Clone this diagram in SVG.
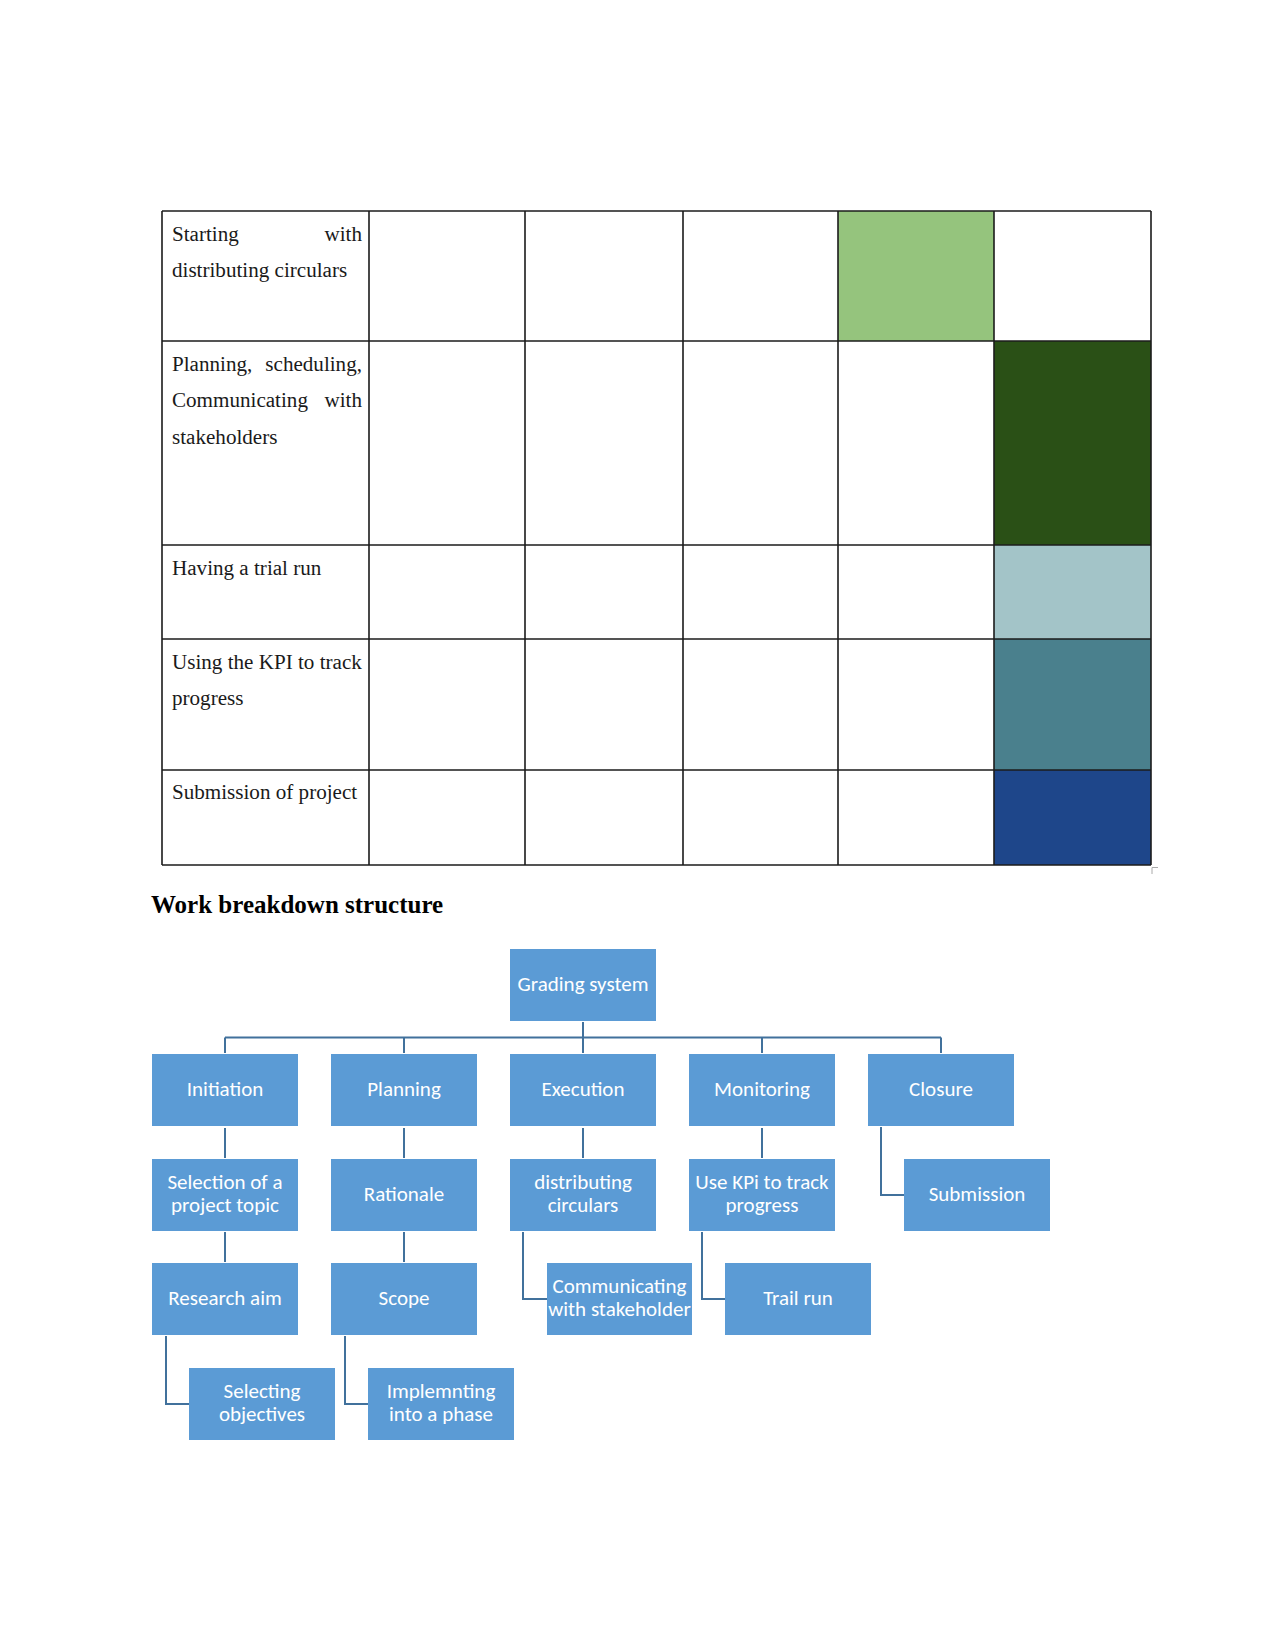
<svg xmlns="http://www.w3.org/2000/svg" width="1275" height="1650" viewBox="0 0 1275 1650">
<style>
.bg{fill:#ffffff}
.cell{stroke:none}
.grid{stroke:#1c1c1c;stroke-width:1.6;fill:none}
.tt{font-family:"Liberation Serif","Times New Roman",serif;font-size:21.1px;fill:#1a1a1a}
.hd{font-family:"Liberation Serif","Times New Roman",serif;font-size:25px;font-weight:bold;fill:#000}
.box{fill:#5B9BD5}
.lbl{font-family:Carlito,Lato,"Liberation Sans",sans-serif;font-size:21px;fill:#ffffff;text-anchor:middle}
.con{stroke:#41719C;stroke-width:2;fill:none}
</style>
<rect class="bg" x="0" y="0" width="1275" height="1650"/>

<g id="table">
  <rect class="cell" x="838" y="211" width="156" height="130" fill="#95C47D"/>
  <rect class="cell" x="994" y="341" width="157" height="204" fill="#2A5016"/>
  <rect class="cell" x="994" y="545" width="157" height="94" fill="#A3C4C8"/>
  <rect class="cell" x="994" y="639" width="157" height="131" fill="#4A808D"/>
  <rect class="cell" x="994" y="770" width="157" height="95" fill="#1E468A"/>
  <path class="grid" d="M162 211H1151M162 341H1151M162 545H1151M162 639H1151M162 770H1151M162 865H1151M162 211V865M369 211V865M525 211V865M683 211V865M838 211V865M994 211V865M1151 211V865"/>
  <path d="M1152 874V867.5H1158" stroke="#aaaaaa" stroke-width="1" fill="none"/>
  <text class="tt" x="172" y="240.5">Starting</text>
  <text class="tt" x="362" y="240.5" text-anchor="end">with</text>
  <text class="tt" x="172" y="277">distributing circulars</text>
  <text class="tt" x="172" y="370.5">Planning,</text>
  <text class="tt" x="362" y="370.5" text-anchor="end">scheduling,</text>
  <text class="tt" x="172" y="407">Communicating</text>
  <text class="tt" x="362" y="407" text-anchor="end">with</text>
  <text class="tt" x="172" y="444">stakeholders</text>
  <text class="tt" x="172" y="574.5">Having a trial run</text>
  <text class="tt" x="172" y="668.5">Using the KPI to track</text>
  <text class="tt" x="172" y="705">progress</text>
  <text class="tt" x="172" y="799">Submission of project</text>
</g>

<text id="heading" class="hd" x="151" y="912.5">Work breakdown structure</text>

<g id="connectors">
  <path class="con" d="M583 1022V1053"/>
  <path class="con" d="M225 1037.5H941"/>
  <path class="con" d="M225 1037.5V1053M404 1037.5V1053M762 1037.5V1053M941 1037.5V1053"/>
  <path class="con" d="M225 1128V1158M404 1128V1158M583 1128V1158M762 1128V1158"/>
  <path class="con" d="M225 1232V1262M404 1232V1262"/>
  <path class="con" d="M881 1127V1195H904"/>
  <path class="con" d="M523 1232V1299H547"/>
  <path class="con" d="M702 1232V1299H725"/>
  <path class="con" d="M166 1336V1404H189"/>
  <path class="con" d="M345 1336V1404H368"/>
</g>

<g id="n-grading"><rect class="box" x="510" y="949" width="146" height="72"/><text class="lbl" x="583" y="991">Grading system</text></g>
<g id="n-initiation"><rect class="box" x="152" y="1054" width="146" height="72"/><text class="lbl" x="225" y="1096">Initiation</text></g>
<g id="n-planning"><rect class="box" x="331" y="1054" width="146" height="72"/><text class="lbl" x="404" y="1096">Planning</text></g>
<g id="n-execution"><rect class="box" x="510" y="1054" width="146" height="72"/><text class="lbl" x="583" y="1096">Execution</text></g>
<g id="n-monitoring"><rect class="box" x="689" y="1054" width="146" height="72"/><text class="lbl" x="762" y="1096">Monitoring</text></g>
<g id="n-closure"><rect class="box" x="868" y="1054" width="146" height="72"/><text class="lbl" x="941" y="1096">Closure</text></g>

<g id="n-selection"><rect class="box" x="152" y="1159" width="146" height="72"/><text class="lbl" x="225" y="1189">Selection of a</text><text class="lbl" x="225" y="1211.5">project topic</text></g>
<g id="n-rationale"><rect class="box" x="331" y="1159" width="146" height="72"/><text class="lbl" x="404" y="1201">Rationale</text></g>
<g id="n-distributing"><rect class="box" x="510" y="1159" width="146" height="72"/><text class="lbl" x="583" y="1189">distributing</text><text class="lbl" x="583" y="1211.5">circulars</text></g>
<g id="n-usekpi"><rect class="box" x="689" y="1159" width="146" height="72"/><text class="lbl" x="762" y="1189">Use KPi to track</text><text class="lbl" x="762" y="1211.5">progress</text></g>
<g id="n-submission"><rect class="box" x="904" y="1159" width="146" height="72"/><text class="lbl" x="977" y="1201">Submission</text></g>

<g id="n-research"><rect class="box" x="152" y="1263" width="146" height="72"/><text class="lbl" x="225" y="1305">Research aim</text></g>
<g id="n-scope"><rect class="box" x="331" y="1263" width="146" height="72"/><text class="lbl" x="404" y="1305">Scope</text></g>
<g id="n-communicating"><rect class="box" x="547" y="1263" width="145" height="72"/><text class="lbl" x="619.5" y="1293">Communicating</text><text class="lbl" x="619.5" y="1315.5">with stakeholder</text></g>
<g id="n-trailrun"><rect class="box" x="725" y="1263" width="146" height="72"/><text class="lbl" x="798" y="1305">Trail run</text></g>

<g id="n-selecting"><rect class="box" x="189" y="1368" width="146" height="72"/><text class="lbl" x="262" y="1398">Selecting</text><text class="lbl" x="262" y="1420.5">objectives</text></g>
<g id="n-implementing"><rect class="box" x="368" y="1368" width="146" height="72"/><text class="lbl" x="441" y="1398">Implemnting</text><text class="lbl" x="441" y="1420.5">into a phase</text></g>
</svg>
